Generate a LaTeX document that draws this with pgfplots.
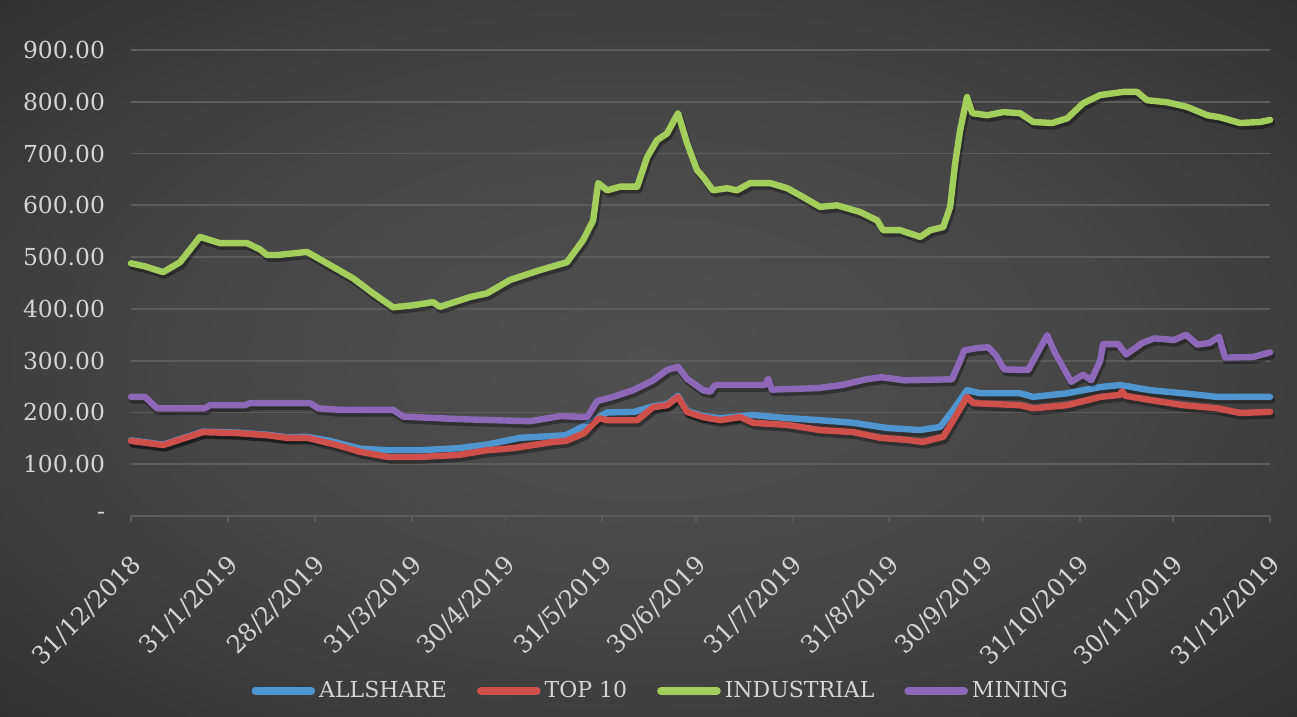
\documentclass[border=0pt]{standalone}
\usepackage{pgfplots}
\usepackage{pgfplotstable}
\pgfplotsset{compat=1.18}
\usepackage{fontspec}
\setmainfont{DejaVu Serif}
\definecolor{cblue}{HTML}{4F95D0}
\definecolor{cred}{HTML}{CF4F4B}
\definecolor{cgreen}{HTML}{A3CE5C}
\definecolor{cpurple}{HTML}{8E68B8}
\definecolor{gridc}{HTML}{5C5C5C}
\definecolor{txt}{HTML}{D4D4D4}
\definecolor{bg0}{HTML}{505050}
\definecolor{bg1}{HTML}{464646}
\definecolor{bg2}{HTML}{2F2F2F}
\definecolor{bg3}{HTML}{252525}
\pgfdeclareradialshading{bgshade}{\pgfpoint{0bp}{0bp}}{color(0bp)=(bg0); color(18bp)=(bg1); color(38bp)=(bg2); color(50bp)=(bg3)}
\pgfplotstableread{
x y
0 146
10.3 138
23.1 163
34.3 161
43.6 157
50 152
56.4 153
63.8 145
73.4 130
82.4 127
92.6 127
105.1 131
114.1 138
124.7 151
139.4 156
143.9 170
148.1 182
150 191
152.6 200
161.2 201
167.3 212
171.8 216
175.3 232
178.2 203
183.3 193
188.8 189
199.4 195
210.3 189
220.8 185
231.4 180
242.3 170
252.9 166
259.3 172
263.5 205
267.9 243
272.1 237
284.9 237
289.1 230
300 237
310.6 249
317 253
326.6 243
337.2 237
348.1 230
365 230
}\tallshare
\pgfplotstableread{
x y
0 145
10.3 137
23.1 162
34.3 160
43.6 156
50 151
56.4 151
66 137
73.4 124
82.4 114
92.6 114
105.1 118
114.1 127
122.4 131
135.3 143
139.4 145
145.2 160
148.1 178
150 189
152.6 185
162.2 185
167.3 210
171.8 214
175.3 230
178.2 201
183.3 191
188.8 185
195.2 191
199.4 180
210.3 176
220.8 166
231.4 162
240.1 151
248.7 147
253.8 143
260.3 153
263.5 185
267.9 230
269.9 218
284.9 214
289.1 208
300 214
310.6 230
317 234
317.6 241
318.6 232
326.6 224
337.2 214
348.1 208
355.4 199
365 201
}\ttopten
\pgfplotstableread{
x y
0 488
4.5 482
10.3 471
15.7 490
22.1 539
28.5 527
37.2 527
41.3 515
43.6 504
46.8 504
56.4 510
62.8 488
71.2 459
77.6 430
84 403
90.4 407
96.8 413
99 404
108.7 423
114.1 430
121.5 456
131.1 475
139.7 490
144.9 533
148.1 571
149.7 643
152.6 629
156.7 636
162.2 636
165.4 693
168.6 726
171.8 739
175.3 778
178.2 720
181.4 668
183.3 655
186.5 629
191 633
194.2 629
198.4 643
204.8 643
210.3 633
215.4 616
220.8 597
226.3 600
233.7 587
239.1 571
241 552
246.5 552
252.9 539
256.1 552
260.3 558
262.5 597
264.1 681
265.7 745
267.9 809
269.6 778
274.4 774
279.5 780
284.9 778
289.1 761
295.2 759
300 768
305.1 797
310.6 813
317.9 819
322.4 819
325.6 803
332.1 799
338.5 790
344.9 774
349 770
355.4 759
361.9 761
365 765
}\tindustrial
\pgfplotstableread{
x y
0 230
4.5 230
8.3 208
23.7 208
25.3 214
36.5 214
38.1 218
57.4 218
59.9 208
67 205
84 205
87.2 192
105.4 187
127.9 183
137.5 193
146.2 191
149.4 222
154.5 230
160.9 243
167.3 262
171.8 282
175.3 288
178.2 265
183.3 243
185.6 240
187.2 253
203.2 253
204.2 265
205.4 244
220.2 247
227.9 253
235.6 264
240.4 268
248.1 262
263.1 264
265.7 300
267 320
270.8 324
274.7 326
277.2 310
279.8 283
287.5 282
290.4 314
293.6 349
296.2 314
301.3 259
305.1 273
307.7 262
310.6 300
311.5 332
316.3 332
318.9 312
324 334
327.9 343
334.3 340
338.1 350
341.7 331
345.5 334
348.7 346
350.6 306
359.6 307
365 316
}\tmining
\begin{document}
\begin{tikzpicture}
\shade[shading=bgshade] (0,0) rectangle (648.5pt,358.5pt);
\begin{axis}[
  at={(65.5pt,100.5pt)}, anchor=south west,
  scale only axis, width=569.5pt, height=233pt,
  xmin=0, xmax=365, ymin=0, ymax=900,
  clip=false,
  axis lines*=left,
  separate axis lines,
  y axis line style={draw=none},
  x axis line style={draw=gridc, line width=0.9pt},
  ymajorgrids, grid style={gridc, line width=0.9pt},
  ytick={0,100,...,900},
  yticklabels={-\hspace{6.5pt},100.00,200.00,300.00,400.00,500.00,600.00,700.00,800.00,900.00},
  ytick style={draw=none},
  yticklabel style={font=\fontsize{11.7}{14}\selectfont, text=txt, anchor=east, xshift=-6.5pt},
  xtick={0,31,59,90,120,151,181,212,243,273,304,334,365},
  xticklabels={31/12/2018,31/1/2019,28/2/2019,31/3/2019,30/4/2019,31/5/2019,30/6/2019,31/7/2019,31/8/2019,30/9/2019,31/10/2019,30/11/2019,31/12/2019},
  xtick style={draw=gridc, line width=0.9pt},
  tick align=outside, major tick length=3pt,
  xticklabel style={font=\fontsize{12.3}{14}\selectfont, text=txt, inner sep=0pt, xshift=3pt, yshift=-19pt, rotate=45, anchor=east},
  legend style={at={(0.466,-0.3755)}, anchor=center, legend columns=4, draw=none, fill=none,
    font=\fontsize{11}{13}\selectfont, text=txt,
    /tikz/every even column/.append style={column sep=13pt}},
  legend image code/.code={\draw[#1, line width=3.8pt, line cap=round] (0pt,0pt) -- (28pt,0pt);},
  every axis plot/.append style={line width=3.2pt, line join=round, line cap=round},
  shadow/.style={black, opacity=0.35, line width=3.6pt, forget plot, transform canvas={xshift=0.8pt, yshift=-1.6pt}},
]
\addplot[shadow] table {\tallshare};
\addplot[cblue] table {\tallshare};
\addlegendentry{ALLSHARE}
\addplot[shadow] table {\ttopten};
\addplot[cred] table {\ttopten};
\addlegendentry{TOP 10}
\addplot[shadow] table {\tindustrial};
\addplot[cgreen] table {\tindustrial};
\addlegendentry{INDUSTRIAL}
\addplot[shadow] table {\tmining};
\addplot[cpurple] table {\tmining};
\addlegendentry{MINING}
\end{axis}
\end{tikzpicture}
\end{document}
